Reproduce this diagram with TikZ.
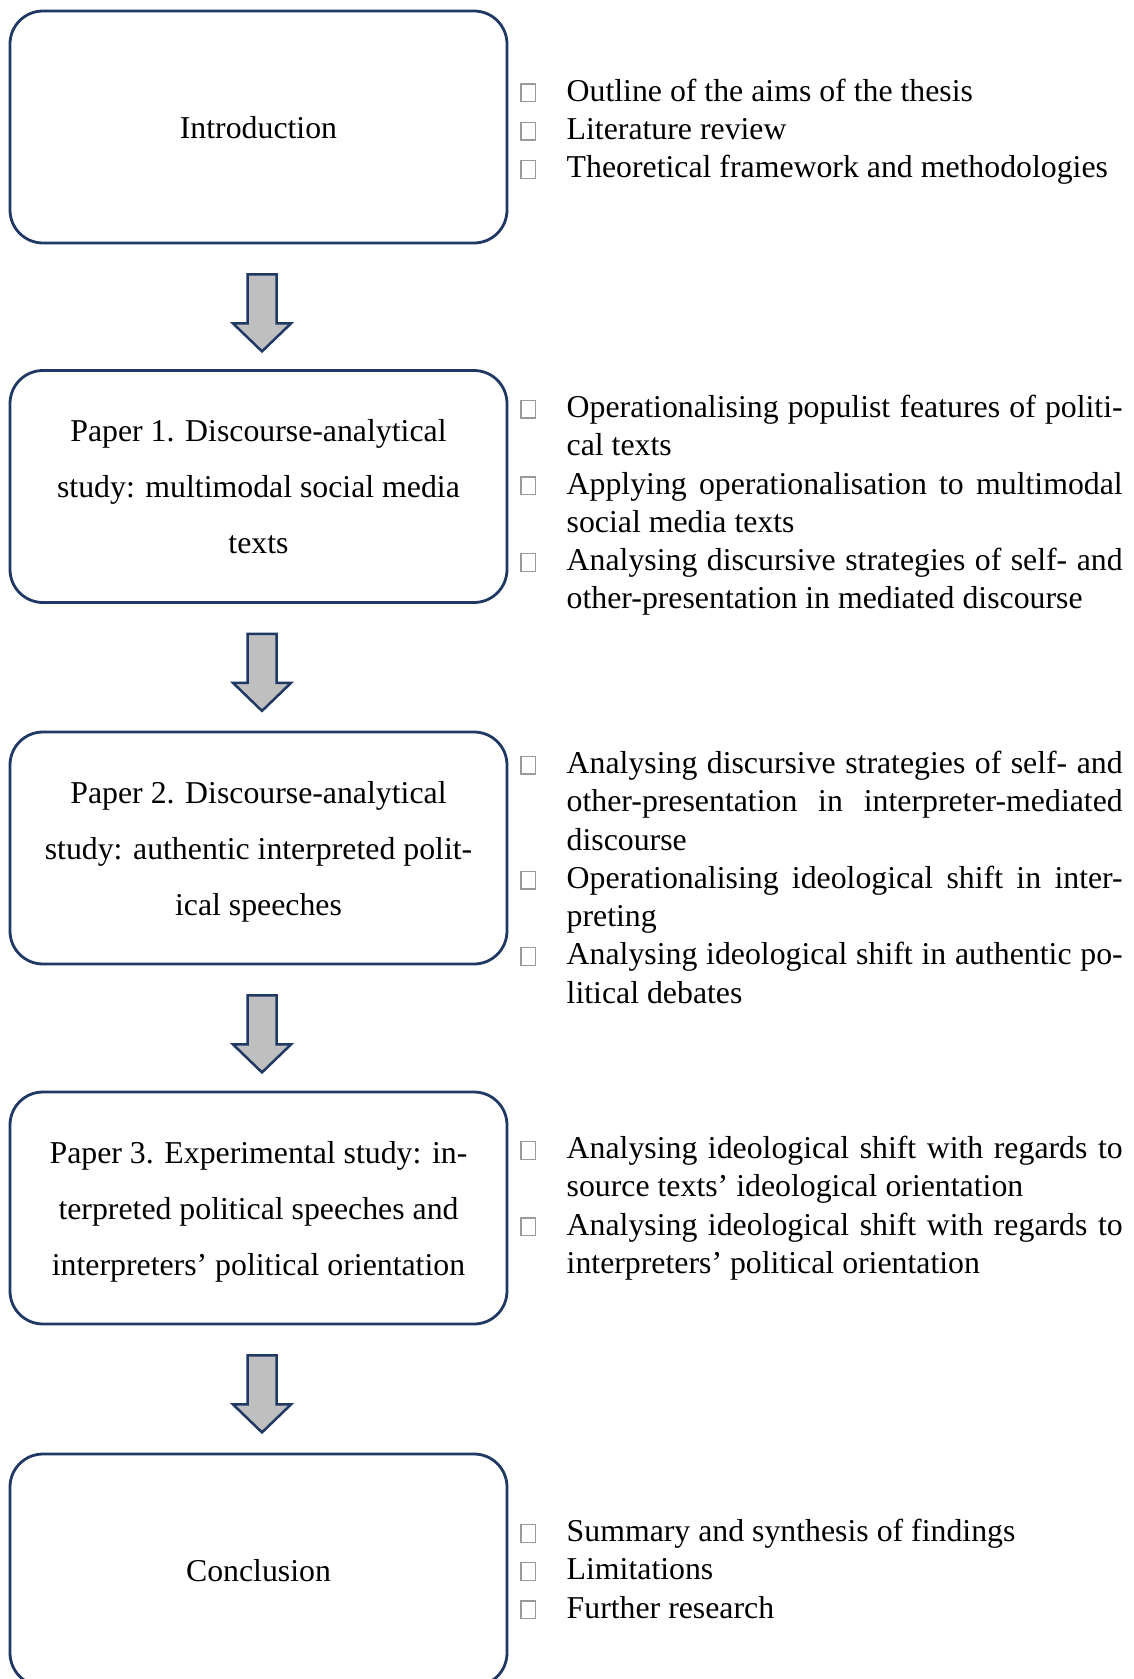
\documentclass[tikz,border=0pt]{standalone}
\usepackage{fontspec}
\setmainfont{Liberation Serif}
\usetikzlibrary{calc}
\definecolor{navy}{HTML}{1F3864}
\definecolor{arrowgray}{HTML}{BFBFBF}
\definecolor{bulletgray}{HTML}{9A9A9A}
\newcommand\bulletbox{{\color{bulletgray}\setlength{\fboxsep}{0pt}\setlength{\fboxrule}{1.3pt}\framebox{\rule{0pt}{16.5pt}\hspace{13pt}}}}
\newcommand\itm{\leavevmode\strut\llap{\makebox[46.5pt][l]{\bulletbox}}}
\newcommand\jline[1]{\makebox[556pt][s]{#1}}
\newcommand\listbody[1]{\raggedright\spaceskip=0pt\xspaceskip=0pt\leftskip=46.5pt\relax #1\par}
\newcommand\blockarrowfrom[1]{\draw[blockarrow] ($(#1.south)+(-11,30)$) -- ++(0,49) -- ++(-14.5,0) -- ++(29,28) -- ++(29,-28) -- ++(-14.5,0) -- ++(0,-49) -- cycle;}
\tikzset{
  stagebox/.style={draw=navy, line width=2.8pt, rounded corners=33pt, minimum width=497pt, minimum height=232pt, inner sep=0pt, align=center, font=\fontsize{31.8}{56}\selectfont},
  listtext/.style={anchor=north west, inner sep=0pt, text width=602.5pt, align=flush left, font=\fontsize{31.8}{38.3}\selectfont},
  blockarrow/.style={draw=navy, fill=arrowgray, line width=2.5pt, line join=miter}
}
\begin{document}
\begin{tikzpicture}[x=1pt,y=-1pt]
\useasboundingbox (0,0) rectangle (1134,1679);
\clip (0,0) rectangle (1134,1679);
\fill[white] (0,0) rectangle (1134,1679);
% stage boxes
\node[stagebox] (b1) at (258.5,127) {\strut Introduction};
\node[stagebox] (b2) at (258.5,486.5) {\strut Paper 1. Discourse-analytical\\ study: multimodal social media\\ texts\strut};
\node[stagebox] (b3) at (258.5,848) {\strut Paper 2. Discourse-analytical\\ study: authentic interpreted polit-\\ ical speeches\strut};
\node[stagebox] (b4) at (258.5,1208) {\strut Paper 3. Experimental study: in-\\ terpreted political speeches and\\ interpreters’ political orientation\strut};
\node[stagebox] (b5) at (258.5,1570) {\strut Conclusion};
% arrows
\blockarrowfrom{b1}
\blockarrowfrom{b2}
\blockarrowfrom{b3}
\blockarrowfrom{b4}
% lists
\node[listtext] (l1) at (520,74) {\listbody{\itm Outline of the aims of the thesis\par
\itm Literature review\par
\itm Theoretical framework and methodologies}};
\node[listtext] (l2) at (520,390.4) {\listbody{\itm\jline{Operationalising populist features of politi-}\par
cal texts\par
\itm\jline{Applying operationalisation to multimodal}\par
social media texts\par
\itm\jline{Analysing discursive strategies of self- and}\par
other-presentation in mediated discourse}};
\node[listtext] (l3) at (520,746.4) {\listbody{\itm\jline{Analysing discursive strategies of self- and}\par
\jline{other-presentation in interpreter-mediated}\par
discourse\par
\itm\jline{Operationalising ideological shift in inter-}\par
preting\par
\itm\jline{Analysing ideological shift in authentic po-}\par
litical debates}};
\node[listtext] (l4) at (520,1131.5) {\listbody{\itm\jline{Analysing ideological shift with regards to}\par
source texts’ ideological orientation\par
\itm\jline{Analysing ideological shift with regards to}\par
interpreters’ political orientation}};
\node[listtext] (l5) at (520,1514.5) {\listbody{\itm Summary and synthesis of findings\par
\itm Limitations\par
\itm Further research}};
\end{tikzpicture}
\end{document}
